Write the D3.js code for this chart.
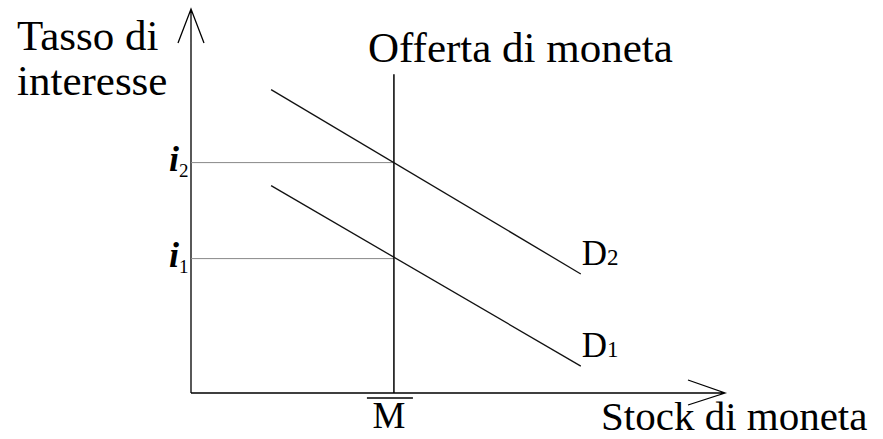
<!DOCTYPE html>
<html lang="it">
<head>
    <meta charset="UTF-8">
    <title>Mercato della moneta</title>
    <script src="https://d3js.org/d3.v7.min.js"></script>
    <style>
        body { margin: 0; background: #fff; }
        text { font-family: "Liberation Serif", "Times New Roman", serif; fill: #000; }
    </style>
</head>
<body>
    <div id="chart"></div>
    <script>
        // data (money stock on x, interest rate on y, both 0-100)
        var moneySupply = 38;            // M bar
        var supplyTop = 83;
        var rateLevels = [
            { name: "i", sub: "1", rate: 35 },
            { name: "i", sub: "2", rate: 60 }
        ];
        var demandCurves = [
            { name: "D", sub: "1", points: [[15, 54], [73, 7]] },
            { name: "D", sub: "2", points: [[15, 79], [73, 31]] }
        ];
        var axisTitleY = ["Tasso di", "interesse"];
        var axisTitleX = "Stock di moneta";
        var supplyTitle = "Offerta di moneta";

        var w = 883;
        var h = 439;

        var svg = d3.select("#chart")
            .append("svg")
            .attr("width", w)
            .attr("height", h);

        var xScale = d3.scaleLinear()
            .domain([0, 100])
            .range([191, 725]);

        var yScale = d3.scaleLinear()
            .domain([0, 100])
            .range([393, 9]);

        // axes with open arrow heads
        var x0 = xScale(0), y0 = yScale(0);
        var xEnd = xScale(100), yEnd = yScale(100);

        svg.append("path")
            .attr("d", "M" + x0 + "," + y0 + "H" + xEnd +
                "M" + (xEnd - 37) + "," + (y0 - 13) + "L" + xEnd + "," + y0 + "L" + (xEnd - 37) + "," + (y0 + 12))
            .attr("fill", "none")
            .attr("stroke", "#000")
            .attr("stroke-width", 1.3);

        svg.append("path")
            .attr("d", "M" + x0 + "," + y0 + "V" + yEnd +
                "M" + (x0 - 13) + "," + (yEnd + 34) + "L" + x0 + "," + yEnd + "L" + (x0 + 13) + "," + (yEnd + 34))
            .attr("fill", "none")
            .attr("stroke", "#000")
            .attr("stroke-width", 1.3);

        // guide lines to the interest rates
        svg.selectAll("line.guide")
            .data(rateLevels)
            .enter()
            .append("line")
            .attr("class", "guide")
            .attr("x1", x0)
            .attr("x2", xScale(moneySupply))
            .attr("y1", d => yScale(d.rate))
            .attr("y2", d => yScale(d.rate))
            .attr("stroke", "#888")
            .attr("stroke-width", 1);

        // money supply
        svg.append("line")
            .attr("x1", xScale(moneySupply))
            .attr("x2", xScale(moneySupply))
            .attr("y1", y0)
            .attr("y2", yScale(supplyTop))
            .attr("stroke", "#000")
            .attr("stroke-width", 1.5);

        // demand curves
        var line = d3.line()
            .x(d => xScale(d[0]))
            .y(d => yScale(d[1]));

        svg.selectAll("path.demand")
            .data(demandCurves)
            .enter()
            .append("path")
            .attr("class", "demand")
            .attr("d", d => line(d.points))
            .attr("fill", "none")
            .attr("stroke", "#111")
            .attr("stroke-width", 1.3);

        var dLabels = svg.selectAll("text.dlabel")
            .data(demandCurves)
            .enter()
            .append("text")
            .attr("class", "dlabel")
            .attr("x", d => xScale(d.points[1][0]) + 1)
            .attr("y", d => yScale(d.points[1][1]) - 9)
            .attr("font-size", "35px");
        dLabels.append("tspan").text(d => d.name);
        dLabels.append("tspan").attr("font-size", "23px").text(d => d.sub);

        // rate labels
        var iLabels = svg.selectAll("text.ilabel")
            .data(rateLevels)
            .enter()
            .append("text")
            .attr("class", "ilabel")
            .attr("x", 169)
            .attr("y", d => yScale(d.rate) + 8)
            .attr("font-size", "36px")
            .attr("font-weight", "bold")
            .attr("font-style", "italic");
        iLabels.append("tspan").text(d => d.name);
        iLabels.append("tspan").attr("font-size", "19px").attr("font-style", "normal")
            .attr("font-weight", "normal").attr("dy", 6).text(d => d.sub);

        // M bar label
        svg.append("text")
            .attr("x", xScale(moneySupply) - 5)
            .attr("y", 428)
            .attr("text-anchor", "middle")
            .attr("font-size", "37px")
            .text("M");
        svg.append("line")
            .attr("x1", xScale(moneySupply) - 27)
            .attr("x2", xScale(moneySupply) + 19)
            .attr("y1", 398)
            .attr("y2", 398)
            .attr("stroke", "#000")
            .attr("stroke-width", 1.5);

        // titles
        svg.append("text")
            .attr("x", 368)
            .attr("y", 62)
            .attr("font-size", "43px")
            .text(supplyTitle);

        svg.selectAll("text.ytitle")
            .data(axisTitleY)
            .enter()
            .append("text")
            .attr("class", "ytitle")
            .attr("x", 17)
            .attr("y", (d, i) => 50 + i * 45)
            .attr("font-size", "43px")
            .text(d => d);

        svg.append("text")
            .attr("x", 601)
            .attr("y", 430)
            .attr("font-size", "41px")
            .text(axisTitleX);
    </script>
</body>
</html>
